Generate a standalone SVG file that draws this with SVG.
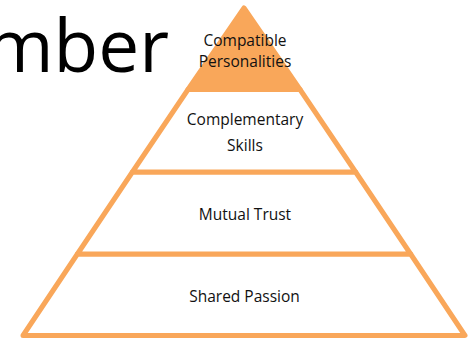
<svg xmlns="http://www.w3.org/2000/svg" width="473" height="338" viewBox="0 0 473 338">
<style>
.band{fill:#fff;stroke:#F9A75A;stroke-width:5;stroke-linejoin:round}
.top{fill:#F9A75A}
.lbl{font-family:"Open Sans","Noto Sans",sans-serif;font-size:15.5px;fill:#111;text-anchor:middle}
.title{font-family:"Open Sans","Noto Sans",sans-serif;font-size:73px;fill:#000;text-anchor:end}
</style>
<rect width="473" height="338" fill="#fff"/>
<text class="title" x="169" y="72">mber</text>
<g id="level4">
<polygon class="band" points="77.4,254 410.6,254 465,335.5 23,335.5"/>
<text class="lbl" x="244.5" y="302">Shared Passion</text>
</g>
<g id="level3">
<polygon class="band" points="132.4,172 355.6,172 410.6,254 77.4,254"/>
<text class="lbl" x="245" y="220">Mutual Trust</text>
</g>
<g id="level2">
<polygon class="band" points="188,89.5 300,89.5 355.6,172 132.4,172"/>
<text class="lbl" x="245" y="125">Complementary</text>
<text class="lbl" x="245" y="151">Skills</text>
</g>
<g id="level1">
<polygon class="band top" points="244,8 300,89.5 188,89.5"/>
<text class="lbl" x="245" y="46">Compatible</text>
<text class="lbl" x="245" y="67">Personalities</text>
</g>
</svg>
